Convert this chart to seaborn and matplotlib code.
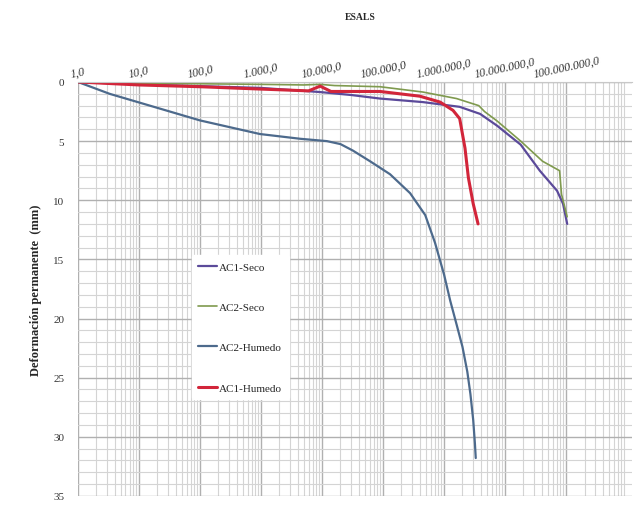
import matplotlib
matplotlib.use("Agg")
import matplotlib.pyplot as plt
import matplotlib.ticker as mticker
import numpy as np
import pandas as pd
import seaborn as sns

# ESALS (x) vs permanent deformation in mm (y)
ac1_seco_x = [1, 10, 100, 1000, 9300, 30000, 89000, 450000, 1.8e6, 3.9e6, 7.4e6, 1.8e7, 3.7e7, 7.1e7, 8.9e7, 1.04e8]
ac1_seco_y = [0, 0.2, 0.35, 0.5, 0.85, 1.1, 1.4, 1.7, 2.1, 2.7, 3.7, 5.3, 7.5, 9.2, 10.3, 12.0]

ac2_seco_x = [1, 10, 100, 1000, 5000, 9300, 16000, 89000, 450000, 1.6e6, 3.7e6, 4.6e6, 7.4e6, 1.8e7, 4.1e7, 7.8e7, 8.4e7, 1.04e8]
ac2_seco_y = [0, 0.1, 0.15, 0.2, 0.25, 0.2, 0.3, 0.4, 0.85, 1.4, 2.0, 2.5, 3.3, 5.0, 6.7, 7.5, 9.5, 11.4]

ac2_humedo_x = [1, 3.3, 22, 100, 960, 4360, 12000, 20000, 32000, 61000, 130000, 277000, 490000,
                710000, 1.0e6, 1.26e6, 1.6e6, 2.0e6, 2.4e6, 2.7e6, 3.0e6, 3.2e6, 3.3e6]
ac2_humedo_y = [0, 1.0, 2.25, 3.25, 4.4, 4.8, 5.0, 5.25, 5.8, 6.7, 7.8, 9.4, 11.25,
                13.6, 16.3, 18.5, 20.5, 22.4, 24.5, 26.4, 28.6, 30.6, 31.8]

ac1_humedo_x = [1, 10, 100, 1000, 6000, 9300, 14000, 89000, 400000, 860000, 1.4e6, 1.8e6, 2.2e6, 2.5e6, 3.0e6, 3.6e6]
ac1_humedo_y = [0, 0.25, 0.4, 0.6, 0.75, 0.35, 0.8, 0.8, 1.2, 1.7, 2.4, 3.1, 5.6, 8.1, 10.3, 12.0]

tick_vals = [1, 10, 100, 1e3, 1e4, 1e5, 1e6, 1e7, 1e8]
tick_labels = ["1,0", "10,0", "100,0", "1.000,0", "10.000,0", "100.000,0",
               "1.000.000,0", "10.000.000,0", "100.000.000,0"]

series = [
    ("AC1-Seco", ac1_seco_x, ac1_seco_y, "#5b4a9a", 1.6),
    ("AC2-Seco", ac2_seco_x, ac2_seco_y, "#7f9a4e", 1.2),
    ("AC2-Humedo", ac2_humedo_x, ac2_humedo_y, "#4d6a8c", 1.6),
    ("AC1-Humedo", ac1_humedo_x, ac1_humedo_y, "#d2253a", 2.2),
]

sns.set_style("white")
plt.rcParams["font.family"] = ["Liberation Serif", "DejaVu Serif"]

fig = plt.figure(figsize=(6.35, 5.06), dpi=100)
bottom = 0.018
ax = fig.add_axes([78 / 635, bottom, (632 - 78) / 635, 1 - bottom - 83 / 506])

for name, xs, ys, col, lw in series:
    df = pd.DataFrame({"x": xs, "y": ys})
    sns.lineplot(data=df, x="x", y="y", ax=ax, color=col, linewidth=lw,
                 label=name, sort=False, estimator=None)

ax.set_xscale("log")
ax.set_xlim(1, 1.2e9)
ax.set_ylim(35, 0)

ax.xaxis.tick_top()
ax.xaxis.set_label_position("top")
ax.set_xticks(tick_vals)
ax.set_xticklabels(tick_labels, rotation=12, fontsize=8.5, style="italic", color="#333333")
ax.xaxis.set_minor_locator(mticker.LogLocator(base=10, subs=np.arange(2, 10), numticks=20))
ax.xaxis.set_minor_formatter(mticker.NullFormatter())
ax.set_yticks(np.arange(0, 36, 5))
ax.yaxis.set_minor_locator(mticker.MultipleLocator(1))
ax.tick_params(axis="both", which="both", length=0)
ax.tick_params(axis="y", labelsize=8, labelcolor="#333333", pad=10)
ax.tick_params(axis="x", pad=2)

ax.grid(which="major", color="#b0b0b0", linewidth=1.0)
ax.grid(which="minor", color="#d4d4d4", linewidth=0.8)
for s in ["left", "right", "bottom"]:
    ax.spines[s].set_visible(False)
ax.spines["top"].set_color("#c8c8c8")

ax.set_xlabel("")
ax.set_ylabel("Deformación permanente  (mm)", fontsize=9, fontweight="bold", labelpad=8)
fig.text(0.567, 0.965, "ESALS", ha="center", va="center", fontsize=7, fontweight="bold")

leg = ax.legend(loc="upper left", bbox_to_anchor=(0.195, 0.595), frameon=True, fontsize=8,
                labelspacing=2.75, handlelength=1.7, handletextpad=0.2, borderpad=0.6)
leg.get_frame().set_facecolor("white")
leg.get_frame().set_edgecolor("white")
leg.get_frame().set_alpha(1)

fig.savefig("out.png", dpi=100)
